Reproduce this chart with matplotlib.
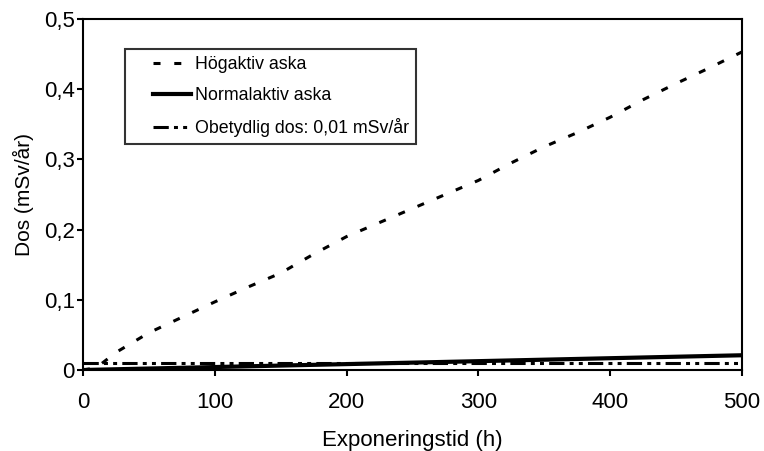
import matplotlib.pyplot as plt
from matplotlib.ticker import FuncFormatter
from matplotlib.legend_handler import HandlerLine2D

plt.rcParams['font.family'] = ['Liberation Sans', 'DejaVu Sans']

# data
tid = [0, 10, 25, 50, 75, 100, 125, 150, 175, 200, 225, 250, 275, 300,
       325, 350, 375, 400, 425, 450, 475, 500]
hogaktiv = [0.0, 0.003, 0.025, 0.053, 0.075, 0.097, 0.118, 0.138, 0.165, 0.19, 0.21,
            0.23, 0.25, 0.27, 0.295, 0.318, 0.338, 0.36, 0.385, 0.408, 0.43, 0.453]
tid_norm = [0, 500]
normalaktiv = [0.0, 0.021]
tid_obet = [0, 500]
obetydlig = [0.01, 0.01]

fig = plt.figure(figsize=(7.64, 4.51), dpi=100)
ax = fig.add_axes([0.1086, 0.1796, 0.8625, 0.7784])

ax.plot(tid, hogaktiv, color='black', lw=2.2, dashes=(2.3, 4.5),
        label='Högaktiv aska')
ax.plot(tid_norm, normalaktiv, color='black', lw=3, label='Normalaktiv aska')
ax.plot(tid_obet, obetydlig, color='black', lw=2.2,
        dashes=(5, 1.7, 1.3, 1.7, 1.3, 1.7), label='Obetydlig dos: 0,01 mSv/år')

ax.set_xlim(0, 500)
ax.set_ylim(0, 0.5)
ax.set_xticks([0, 100, 200, 300, 400, 500])
ax.set_yticks([0, 0.1, 0.2, 0.3, 0.4, 0.5])
ax.yaxis.set_major_formatter(FuncFormatter(lambda v, p: '0' if v == 0 else f'{v:.1f}'.replace('.', ',')))
ax.tick_params(direction='out', length=4.5, width=1.5, labelsize=16, color='black')
ax.tick_params(axis='x', pad=11.5)
ax.tick_params(axis='y', pad=1.5)
for s in ax.spines.values():
    s.set_linewidth(1.5)

ax.set_xlabel('Exponeringstid (h)', fontsize=16)
ax.set_ylabel('Dos (mSv/år)', fontsize=15)
ax.xaxis.set_label_coords(0.5, -0.172)
ax.yaxis.set_label_coords(-0.075, 0.5)

hm = HandlerLine2D(xpad=1.2)
leg = ax.legend(loc='upper left', bbox_to_anchor=(0.0637, 0.9145), fontsize=12.8,
                frameon=True, fancybox=False, edgecolor='black',
                handlelength=3.3, handletextpad=0.25, borderpad=0.4,
                labelspacing=0.78, borderaxespad=0,
                handler_map={l: hm for l in ax.get_lines()})
leg.get_frame().set_linewidth(1.5)

plt.savefig('out.png', dpi=100)
